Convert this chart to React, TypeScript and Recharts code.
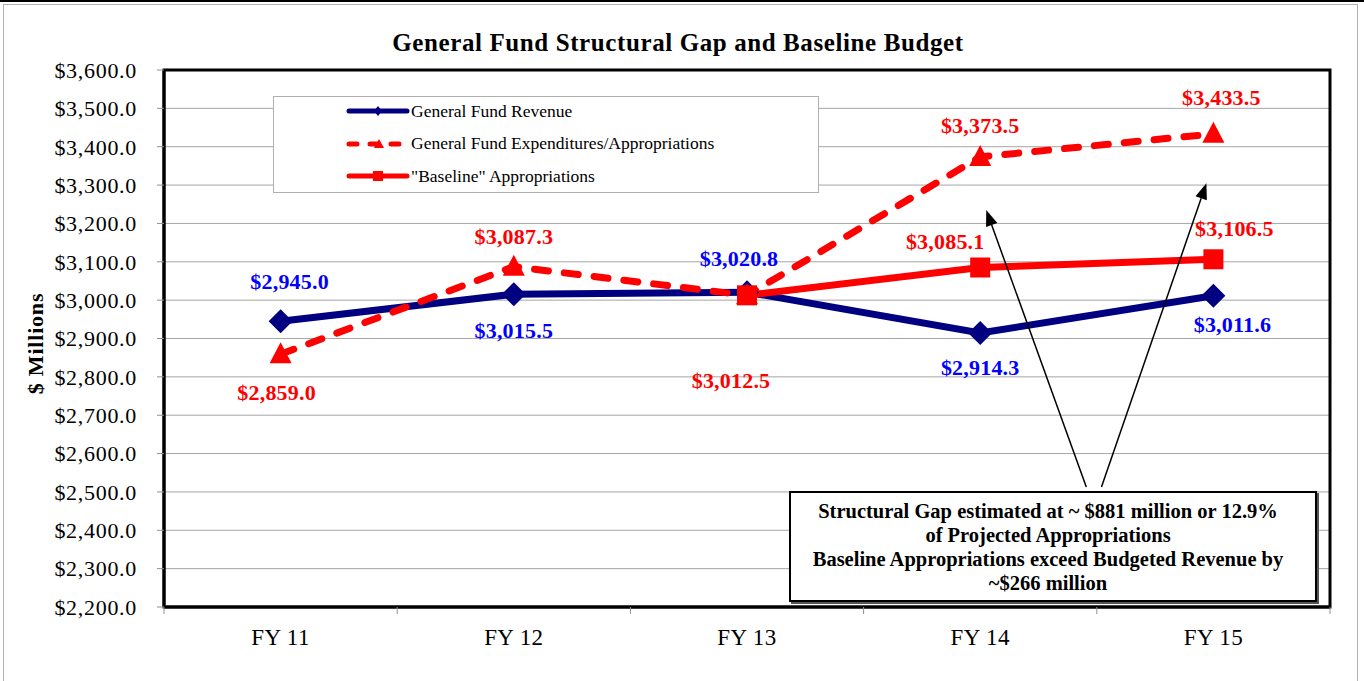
import React from 'react';
import {
  LineChart,
  Line,
  XAxis,
  YAxis,
  CartesianGrid,
  ReferenceLine,
  ReferenceArea,
} from 'recharts';

const categories = ['FY 11', 'FY 12', 'FY 13', 'FY 14', 'FY 15'];
const revenue = [2945.0, 3015.5, 3020.8, 2914.3, 3011.6];
const expenditures = [2859.0, 3087.3, 3012.5, 3373.5, 3433.5];
const baseline = [null, null, 3012.5, 3085.1, 3106.5];
const yTicks = [2200, 2300, 2400, 2500, 2600, 2700, 2800, 2900, 3000, 3100, 3200, 3300, 3400, 3500, 3600];

// arrows from the note box up to the gap, in data units (x = category position)
const arrows = [
  { from: [4.455, 2513], to: [4.026, 3235] },
  { from: [4.52, 2513], to: [4.97, 3305] },
];

const data = categories.map((c, i) => ({
  x: i + 1,
  cat: c,
  revenue: revenue[i],
  expenditures: expenditures[i],
  baseline: baseline[i],
}));

// label offsets [dx, dy] from each point
const revLabelPos = [[9, -40], [0, 36], [-8, -34], [0, 34], [19, 29]];
const expLabelPos = [[-4, 38], [0, -30], null, [0, -31], [8, -36]];
const baseLabelPos = [null, null, [-16, 85], [-35, -26], [21, -31]];

const SERIF = '"Liberation Serif", "Times New Roman", serif';
const NAVY = '#000080';
const RED = '#ff0000';

const fmt = (v: number) =>
  '$' + v.toLocaleString('en-US', { minimumFractionDigits: 1, maximumFractionDigits: 1 });

const makeLabel = (pos: (number[] | null)[], color: string) => (p: any) => {
  const off = pos[p.index];
  if (!off || p.value == null) return null;
  return (
    <text
      key={`lbl-${p.index}`}
      x={p.x + off[0]}
      y={p.y + off[1]}
      textAnchor="middle"
      dominantBaseline="central"
      fill={color}
      fontFamily={SERIF}
      fontWeight="bold"
      fontSize={22}
      letterSpacing={0.2}
    >
      {fmt(p.value)}
    </text>
  );
};

const diamond = (p: any) => {
  if (p.cx == null || p.cy == null || p.value == null) return <g key={`d-${p.index}`} />;
  const r = 12;
  return (
    <polygon
      key={`d-${p.index}`}
      points={`${p.cx},${p.cy - r} ${p.cx + r},${p.cy} ${p.cx},${p.cy + r} ${p.cx - r},${p.cy}`}
      fill={NAVY}
    />
  );
};

const triangle = (p: any) => {
  if (p.cx == null || p.cy == null || p.value == null) return <g key={`t-${p.index}`} />;
  return (
    <polygon
      key={`t-${p.index}`}
      points={`${p.cx},${p.cy - 12} ${p.cx + 11},${p.cy + 9} ${p.cx - 11},${p.cy + 9}`}
      fill={RED}
    />
  );
};

const square = (p: any) => {
  if (p.cx == null || p.cy == null || p.value == null) return <g key={`s-${p.index}`} />;
  return <rect key={`s-${p.index}`} x={p.cx - 10} y={p.cy - 10} width={20} height={20} fill={RED} />;
};

const arrowShape = (p: any) => {
  const { x1, y1, x2, y2 } = p;
  const ang = Math.atan2(y2 - y1, x2 - x1);
  const len = 16;
  const w = 6;
  const bx = x2 - len * Math.cos(ang);
  const by = y2 - len * Math.sin(ang);
  const px = -Math.sin(ang) * w;
  const py = Math.cos(ang) * w;
  return (
    <g>
      <line x1={x1} y1={y1} x2={bx} y2={by} stroke="#000" strokeWidth={1.5} />
      <polygon points={`${x2},${y2} ${bx + px},${by + py} ${bx - px},${by - py}`} fill="#000" />
    </g>
  );
};

const xTick = (p: any) => {
  const v = p.payload.value;
  if (Number.isInteger(v)) {
    return (
      <text x={p.x} y={p.y + 30} textAnchor="middle" dominantBaseline="central" fontFamily={SERIF} fontSize={23} letterSpacing={0.4} fill="#000">
        {categories[v - 1]}
      </text>
    );
  }
  return <line x1={p.x} y1={p.y} x2={p.x} y2={p.y + 7} stroke="#909090" strokeWidth={1} />;
};

const LegendBox = () => {
  const row = (icon: React.ReactNode, text: string) => (
    <div style={{ display: 'flex', alignItems: 'center', height: 32.5 }}>
      <svg width={66} height={20} style={{ marginLeft: 72 }}>
        {icon}
      </svg>
      <span style={{ marginLeft: -1 }}>{text}</span>
    </div>
  );
  return (
    <div
      style={{
        position: 'absolute',
        left: 273,
        top: 94,
        width: 546,
        height: 97,
        background: '#fff',
        border: '1px solid #b0b0b0',
        fontFamily: SERIF,
        fontSize: 17.5,
        color: '#000',
        boxSizing: 'border-box',
        paddingTop: 0,
        overflow: 'hidden',
      }}
    >
      <div style={{ marginTop: -2 }}>
        {row(
          <g>
            <line x1={3} y1={10} x2={61} y2={10} stroke={NAVY} strokeWidth={5} strokeLinecap="round" />
            <polygon points="32,5 36,10 32,15 28,10" fill={NAVY} />
          </g>,
          'General Fund Revenue'
        )}
        {row(
          <g>
            <line x1={3} y1={10} x2={61} y2={10} stroke={RED} strokeWidth={5} strokeLinecap="round" strokeDasharray="8 13" />
            <polygon points="33,5 38,14 28,14" fill={RED} />
          </g>,
          'General Fund Expenditures/Appropriations'
        )}
        {row(
          <g>
            <line x1={3} y1={10} x2={61} y2={10} stroke={RED} strokeWidth={5} strokeLinecap="round" />
            <rect x={27} y={5} width={10} height={10} fill={RED} />
          </g>,
          '"Baseline" Appropriations'
        )}
      </div>
    </div>
  );
};

export default function App() {
  return (
    <div
      style={{
        position: 'absolute',
        left: 0,
        top: 0,
        width: 1364,
        height: 681,
        overflow: 'hidden',
        background: '#fff',
        borderTop: '2px solid #000',
        boxSizing: 'border-box',
      }}
    >
      <div
        style={{
          position: 'absolute',
          left: 3,
          top: 2,
          width: 1353,
          height: 700,
          border: '1px solid #b0b0b0',
        }}
      />
      <div
        style={{
          position: 'absolute',
          left: 0,
          top: 27,
          width: 1356,
          textAlign: 'center',
          fontFamily: SERIF,
          fontWeight: 'bold',
          fontSize: 25,
          letterSpacing: 0.6,
        }}
      >
        General Fund Structural Gap and Baseline Budget
      </div>
      <div style={{ position: 'absolute', left: 0, top: -2 }}>
        <LineChart width={1364} height={681} data={data} margin={{ top: 70, right: 34, bottom: 34, left: 14 }}>
          <CartesianGrid vertical={false} stroke="#a6a6a6" strokeWidth={1} />
          <XAxis
            dataKey="x"
            type="number"
            domain={[0.5, 5.5]}
            ticks={[0.5, 1, 1.5, 2, 2.5, 3, 3.5, 4, 4.5, 5, 5.5]}
            interval={0}
            height={40}
            tickLine={false}
            tickSize={0}
            tickMargin={0}
            axisLine={{ stroke: '#000', strokeWidth: 3 }}
            tick={xTick}
          />
          <YAxis
            type="number"
            domain={[2200, 3600]}
            ticks={yTicks}
            interval={0}
            width={150}
            tickSize={7}
            tickMargin={20}
            tickLine={{ stroke: '#909090' }}
            axisLine={{ stroke: '#000', strokeWidth: 3 }}
            tickFormatter={fmt}
            tick={{ fontFamily: SERIF, fontSize: 22, fill: '#000', letterSpacing: 0.7 }}
            label={{
              content: (p: any) => {
                const vb = p.viewBox;
                const cx = 35;
                const cy = vb.y + vb.height / 2 + 5;
                return (
                  <text
                    x={cx}
                    y={cy}
                    transform={`rotate(-90 ${cx} ${cy})`}
                    textAnchor="middle"
                    dominantBaseline="central"
                    fontFamily={SERIF}
                    fontWeight="bold"
                    fontSize={22}
                    letterSpacing={0.8}
                    fill="#000"
                  >
                    $ Millions
                  </text>
                );
              },
            }}
          />
          <ReferenceArea x1={0.5} x2={5.5} y1={2200} y2={3600} fill="none" stroke="#000" strokeWidth={3} />
          <Line
            dataKey="revenue"
            stroke={NAVY}
            strokeWidth={7}
            dot={diamond}
            label={makeLabel(revLabelPos, '#0000ff')}
            isAnimationActive={false}
          />
          <Line
            dataKey="expenditures"
            stroke={RED}
            strokeWidth={7}
            strokeDasharray="14 16"
            strokeLinecap="round"
            dot={triangle}
            label={makeLabel(expLabelPos, RED)}
            isAnimationActive={false}
          />
          <Line
            dataKey="baseline"
            stroke={RED}
            strokeWidth={7}
            dot={square}
            label={makeLabel(baseLabelPos, RED)}
            connectNulls={false}
            isAnimationActive={false}
          />
          {arrows.map((a, i) => (
            <ReferenceLine
              key={`arr-${i}`}
              segment={[
                { x: a.from[0], y: a.from[1] },
                { x: a.to[0], y: a.to[1] },
              ]}
              shape={arrowShape}
            />
          ))}
        </LineChart>
      </div>
      <LegendBox />
      <div
        style={{
          position: 'absolute',
          left: 789,
          top: 489,
          width: 528,
          height: 111,
          boxSizing: 'border-box',
          border: '2px solid #000',
          boxShadow: '2px 2px 0 #555',
          background: '#fff',
          display: 'flex',
          alignItems: 'center',
          justifyContent: 'center',
          textAlign: 'center',
          fontFamily: SERIF,
          fontWeight: 'bold',
          fontSize: 20.5,
          lineHeight: '24px',
        }}
      >
        <div style={{ marginLeft: -10 }}>
          Structural Gap estimated at ~ $881 million or 12.9%
          <br />
          of Projected Appropriations
          <br />
          Baseline Appropriations exceed Budgeted Revenue by
          <br />
          ~$266 million
        </div>
      </div>
    </div>
  );
}
